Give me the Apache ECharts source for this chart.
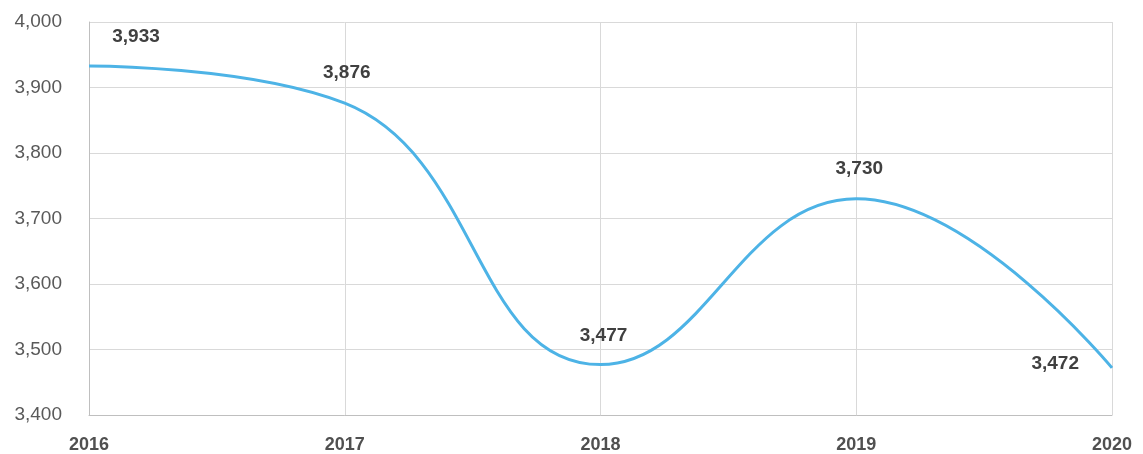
<!DOCTYPE html>
<html>
<head>
<meta charset="utf-8">
<script src="https://cdn.jsdelivr.net/npm/echarts@6/dist/echarts.min.js"></script>
<style>
html,body{margin:0;padding:0;background:#fff;}
#chart{width:1143px;height:454px;}
</style>
</head>
<body>
<div id="chart"></div>
<script>
var years = ['2016', '2017', '2018', '2019', '2020'];
var values = [3933, 3876, 3477, 3730, 3472];
var labelOffsets = [[47, -14], [2, -15], [3, -13], [3, -15], [0, -4]];

var myChart = echarts.init(document.getElementById('chart'));
var fmt = function (v) { return echarts.format.addCommas(v); };

var points = values.map(function (v, i) {
    var item = {value: v, label: {offset: labelOffsets[i]}};
    if (i == values.length - 1) {
        item.label.position = 'left';
        item.label.distance = 32;
    }
    return item;
});

var option = {
    animation: false,
    grid: {left: 89, right: 31, top: 22, bottom: 38},
    xAxis: {
        type: 'category',
        data: years,
        boundaryGap: false,
        axisLine: {lineStyle: {color: '#bfbfbf'}},
        axisTick: {show: false},
        splitLine: {show: true, lineStyle: {color: '#d9d9d9', width: 1}},
        axisLabel: {
            color: '#505050', fontSize: 18, fontWeight: 'bold',
            fontFamily: 'Liberation Sans', margin: 21
        }
    },
    yAxis: {
        type: 'value',
        min: 3400, max: 4000, interval: 100,
        axisLine: {show: true, lineStyle: {color: '#bfbfbf'}},
        axisTick: {show: false},
        splitLine: {lineStyle: {color: '#d9d9d9', width: 1}},
        axisLabel: {
            color: '#595959', fontSize: 19, fontFamily: 'Liberation Sans',
            margin: 27, formatter: fmt
        }
    },
    series: [{
        type: 'line',
        data: points,
        smooth: 0.45,
        symbol: 'circle',
        symbolSize: 2,
        showSymbol: true,
        itemStyle: {color: 'rgba(0,0,0,0)', borderWidth: 0},
        lineStyle: {color: '#4db3e6', width: 3},
        label: {
            show: true, position: 'top', distance: 5,
            color: '#404040', fontSize: 19, fontWeight: 'bold',
            fontFamily: 'Liberation Sans',
            formatter: function (p) { return fmt(p.value); }
        }
    }]
};
myChart.setOption(option);
</script>
</body>
</html>
